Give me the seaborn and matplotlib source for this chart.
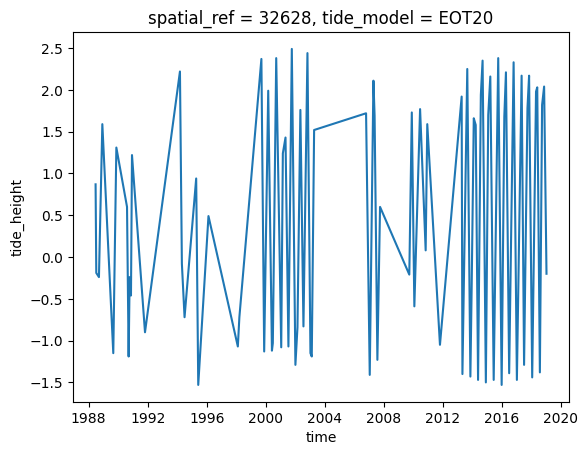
import matplotlib
matplotlib.use("Agg")
import matplotlib.pyplot as plt
import matplotlib.dates as mdates
import seaborn as sns
import pandas as pd

times = [
    "1988-06-21", "1988-07-08", "1988-09-12", "1988-12-05", "1989-09-02", "1989-11-17",
    "1990-08-08", "1990-09-17", "1990-10-12", "1990-11-14", "1990-12-09", "1991-10-27",
    "1994-03-10", "1994-04-27", "1994-07-02", "1995-04-16", "1995-06-06", "1996-02-14",
    "1998-02-10", "1998-03-20", "1999-09-16", "1999-11-24", "2000-03-03", "2000-06-03",
    "2000-06-25", "2000-09-17", "2001-01-19", "2001-02-28", "2001-05-05", "2001-07-16",
    "2001-10-08", "2002-01-05", "2002-02-25", "2002-05-08", "2002-07-23", "2002-10-30",
    "2003-01-12", "2003-02-14", "2003-04-13", "2006-10-20", "2007-01-19", "2007-04-20",
    "2007-05-19", "2007-07-27", "2007-10-01", "2009-09-24", "2009-11-25", "2010-01-27",
    "2010-06-18", "2010-11-03", "2010-12-13", "2011-10-23", "2013-04-12", "2013-05-01",
    "2013-08-29", "2013-11-14", "2013-12-16", "2014-02-06", "2014-03-26", "2014-05-23",
    "2014-07-31", "2014-09-12", "2014-12-02", "2015-01-30", "2015-03-22", "2015-06-14",
    "2015-10-04", "2015-12-28", "2016-03-03", "2016-04-12", "2016-07-01", "2016-10-19",
    "2017-01-08", "2017-05-05", "2017-07-05", "2017-09-27", "2017-11-06", "2018-01-22",
    "2018-04-27", "2018-05-27", "2018-07-31", "2018-09-24", "2018-11-13", "2019-01-11",
]
tide_height = [
    0.87, -0.19, -0.24, 1.59, -1.15, 1.31,
    0.60, -1.19, -0.24, -0.46, 1.22, -0.90,
    2.22, -0.08, -0.72, 0.94, -1.53, 0.49,
    -1.07, -0.72, 2.37, -1.13, 1.99, -1.12,
    -1.03, 2.38, -1.08, 1.24, 1.43, -1.07,
    2.49, -1.29, -0.84, 1.76, -0.83, 2.44,
    -1.15, -1.19, 1.52, 1.72, -1.41, 2.11,
    1.69, -1.23, 0.60, -0.21, 1.73, -0.59,
    1.77, 0.08, 1.59, -1.05, 1.92, -1.40,
    2.25, -1.43, -0.35, 1.66, 1.58, -1.47,
    1.94, 2.35, -1.50, 1.70, 2.16, -1.47,
    2.38, -1.53, 1.68, 2.21, -1.39, 2.33,
    -1.47, 2.17, -1.29, 1.78, 2.17, -1.44,
    1.98, 2.03, -1.38, 1.82, 2.04, -0.20,
]

df = pd.DataFrame({"time": pd.to_datetime(times), "tide_height": tide_height})

fig, ax = plt.subplots(figsize=(6.4, 4.8), dpi=100)
sns.lineplot(data=df, x="time", y="tide_height", ax=ax, color="#1f77b4",
             linewidth=1.5, sort=False, estimator=None)
ax.xaxis.set_major_locator(mdates.YearLocator(4))
ax.xaxis.set_major_formatter(mdates.DateFormatter("%Y"))
ax.set_xlabel("time")
ax.set_ylabel("tide_height")
ax.set_title("spatial_ref = 32628, tide_model = EOT20")
fig.savefig("out.png", dpi=100, bbox_inches="tight")
